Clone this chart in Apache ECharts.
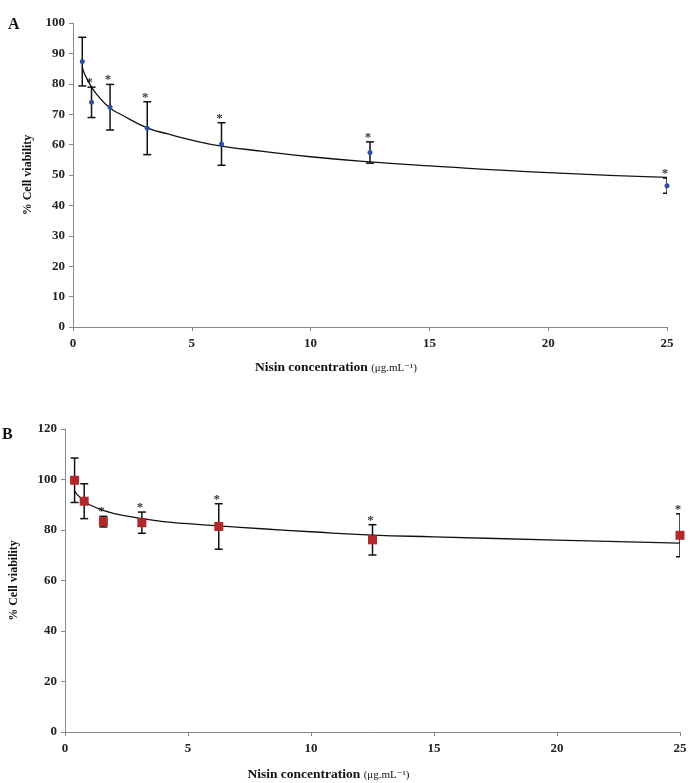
<!DOCTYPE html>
<html>
<head>
<meta charset="utf-8">
<script src="https://cdn.jsdelivr.net/npm/echarts@6/dist/echarts.min.js"></script>
<style>
html,body{margin:0;padding:0;background:#fff;}
#chart{width:690px;height:783px;}
</style>
</head>
<body>
<div id="chart"></div>
<script>
// ---- data ----
const conc = [0.39, 0.78, 1.56, 3.125, 6.25, 12.5, 25];
const meanA = [87.3, 73.9, 72.3, 65.4, 60.2, 57.4, 46.5];
const sdA   = [8.0, 5.0, 7.5, 8.7, 7.0, 3.5, 2.5];
const sigA  = [0, 1, 1, 1, 1, 1, 1];
const meanB = [99.7, 91.4, 83.3, 82.9, 81.4, 76.1, 77.9];
const sdB   = [8.8, 6.9, 2.1, 4.2, 9.0, 6.0, 8.5];
const sigB  = [0, 0, 1, 1, 1, 1, 1];
// trend-line values
const trendX = [0.39, 0.5, 0.78, 1, 1.56, 2, 3.125, 4, 5, 6.25, 8, 10, 12.5, 15, 20, 25];
const trendA = [85.5, 83, 79, 76.5, 72, 70, 65.5, 63.5, 61.5, 59.5, 57.8, 56, 54.3, 53, 50.8, 49.2];
const trendB = [95.5, 94, 91.5, 90, 87.8, 86.5, 84.5, 83.3, 82.5, 81.6, 80.5, 79.3, 78, 77.3, 76, 74.8];

const serif = '"Liberation Serif", "DejaVu Serif", serif';
const chart = echarts.init(document.getElementById('chart'));

function errRender(params, api) {
  const x = api.value(0), lo = api.value(1), hi = api.value(2);
  const p1 = api.coord([x, hi]), p2 = api.coord([x, lo]);
  const w = 4;
  const st = {stroke: '#111', lineWidth: 1.5};
  return {type: 'group', children: [
    {type: 'line', shape: {x1: p1[0], y1: p1[1], x2: p2[0], y2: p2[1]}, style: st},
    {type: 'line', shape: {x1: p1[0] - w, y1: p1[1], x2: p1[0] + w, y2: p1[1]}, style: st},
    {type: 'line', shape: {x1: p2[0] - w, y1: p2[1], x2: p2[0] + w, y2: p2[1]}, style: st}
  ]};
}

function xAxisCfg(idx, padRight, gap) {
  return {
    gridIndex: idx, type: 'value', min: 0, max: 25, interval: 5,
    name: '{b|Nisin concentration} {n|(μg.mL⁻¹)}',
    nameLocation: 'middle', nameGap: gap,
    nameTextStyle: {padding: [0, padRight, 0, 0], rich: {
      b: {fontFamily: serif, fontWeight: 'bold', fontSize: 13.5, color: '#111'},
      n: {fontFamily: serif, fontSize: 11, color: '#111'}
    }},
    axisLine: {lineStyle: {color: '#888', width: 1}},
    axisTick: {show: true, length: 4, lineStyle: {color: '#888'}},
    axisLabel: {fontFamily: serif, fontWeight: 'bold', fontSize: 13, color: '#222', margin: 10},
    splitLine: {show: false}
  };
}
function yAxisCfg(idx, max, interval, gap) {
  return {
    gridIndex: idx, type: 'value', min: 0, max: max, interval: interval,
    name: '% Cell viability', nameLocation: 'middle', nameGap: gap, nameRotate: 90,
    nameTextStyle: {fontFamily: serif, fontWeight: 'bold', fontSize: 12, color: '#111'},
    axisLine: {show: true, lineStyle: {color: '#888', width: 1}},
    axisTick: {show: true, length: 4, lineStyle: {color: '#888'}},
    axisLabel: {fontFamily: serif, fontWeight: 'bold', fontSize: 13, color: '#222', margin: 8},
    splitLine: {show: false}
  };
}

function zip(xs, ys) { return xs.map((x, i) => [x, ys[i]]); }
function errData(m, s) { return conc.map((x, i) => [x, m[i] - s[i], m[i] + s[i]]); }
function starData(m, s, sig) {
  return conc.map((x, i) => [x, m[i] + s[i], sig[i]]).filter(d => d[2]);
}
const starLabel = {show: true, formatter: '*', position: 'top', distance: -2, offset: [-2, 0],
  fontFamily: serif, fontWeight: 'bold', fontSize: 13, color: '#000'};

chart.setOption({
  animation: false,
  grid: [
    {left: 73, right: 23, top: 23, bottom: 456},
    {left: 58, right: 10, top: 429, bottom: 49}
  ],
  xAxis: [xAxisCfg(0, 68, 34), xAxisCfg(1, 88, 36)],
  yAxis: [yAxisCfg(0, 100, 10, 39), yAxisCfg(1, 120, 20, 45)],
  graphic: [
    {type: 'text', left: 8, top: 17, style: {text: 'A', fontFamily: serif, fontWeight: 'bold', fontSize: 16, fill: '#111'}},
    {type: 'text', left: 2, top: 427, style: {text: 'B', fontFamily: serif, fontWeight: 'bold', fontSize: 16, fill: '#111'}}
  ],
  series: [
    {type: 'line', xAxisIndex: 0, yAxisIndex: 0, data: zip(trendX, trendA), smooth: true,
     symbol: 'none', lineStyle: {color: '#111', width: 1.3}, z: 2},
    {type: 'custom', xAxisIndex: 0, yAxisIndex: 0, data: errData(meanA, sdA), renderItem: errRender, clip: true, z: 3},
    {type: 'scatter', xAxisIndex: 0, yAxisIndex: 0, data: zip(conc, meanA), symbol: 'circle', symbolSize: 5,
     itemStyle: {color: '#2f4f9f', opacity: 1}, z: 4},
    {type: 'scatter', xAxisIndex: 0, yAxisIndex: 0, data: starData(meanA, sdA, sigA), symbolSize: 0,
     label: starLabel, z: 5},

    {type: 'line', xAxisIndex: 1, yAxisIndex: 1, data: zip(trendX, trendB), smooth: true,
     symbol: 'none', lineStyle: {color: '#111', width: 1.3}, z: 2},
    {type: 'custom', xAxisIndex: 1, yAxisIndex: 1, data: errData(meanB, sdB), renderItem: errRender, clip: true, z: 3},
    {type: 'scatter', xAxisIndex: 1, yAxisIndex: 1, data: zip(conc, meanB), symbol: 'rect', symbolSize: 9,
     itemStyle: {color: '#b3282a', opacity: 1}, z: 4},
    {type: 'scatter', xAxisIndex: 1, yAxisIndex: 1, data: starData(meanB, sdB, sigB), symbolSize: 0,
     label: starLabel, z: 5}
  ]
});
</script>
</body>
</html>
